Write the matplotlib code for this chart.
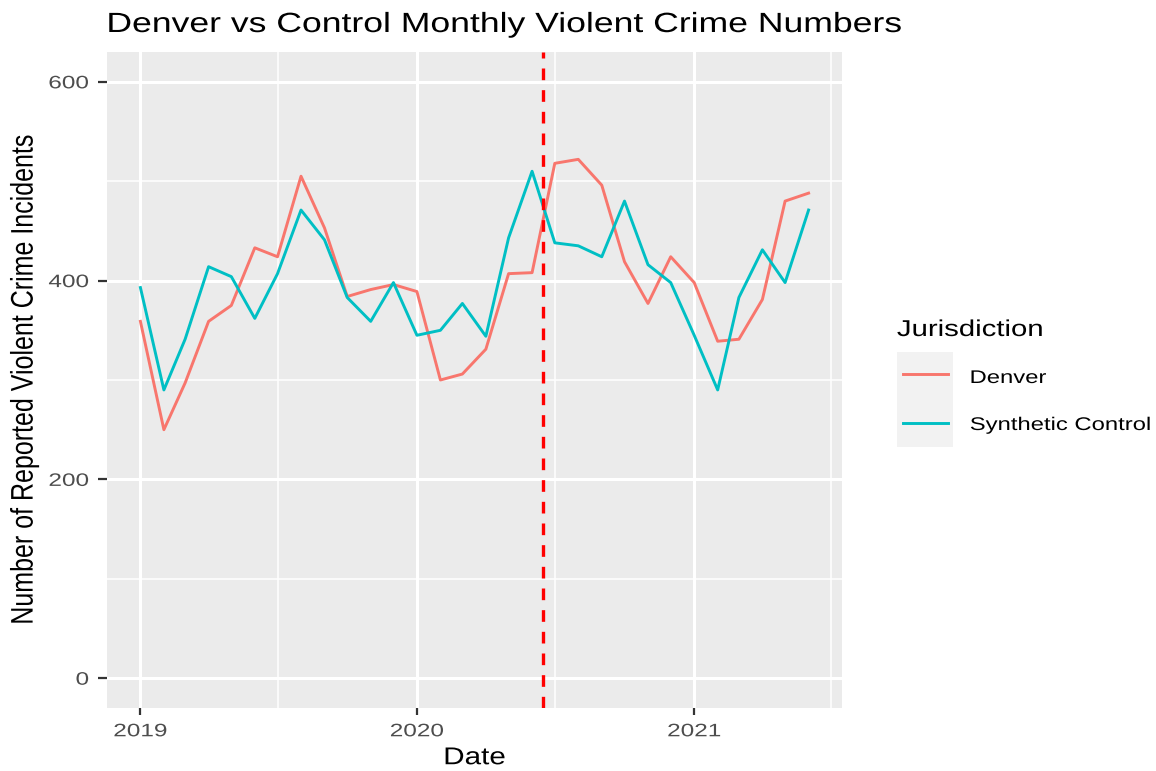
import matplotlib
matplotlib.use("Agg")
import matplotlib.pyplot as plt
import matplotlib.dates as mdates
from matplotlib.lines import Line2D
from matplotlib.patches import Rectangle
from matplotlib.patheffects import AbstractPathEffect
from matplotlib.transforms import Affine2D
import pandas as pd

# Meses (enero 2019 - junio 2021)
fechas = pd.date_range("2019-01-01", periods=30, freq="MS")

denver = [359, 250, 297, 359, 375, 433, 424, 505, 453, 384,
          391, 396, 389, 300, 306, 331, 407, 408, 518, 522,
          496, 419, 377, 424, 398, 339, 341, 381, 480, 488]

control = [393, 290, 341, 414, 404, 362, 407, 471, 441, 383,
           359, 398, 345, 350, 377, 344, 443, 510, 438, 435,
           424, 480, 416, 398, 345, 290, 383, 431, 398, 471]

series = ["Denver", "Synthetic Control"]
colores = ["#F8766D", "#00BFC4"]

fecha_corte = pd.Timestamp("2020-06-16")

W, H = 1156, 771


class Estirar(AbstractPathEffect):
    # ensancha el texto en horizontal (la imagen original esta estirada)
    def __init__(self, sx=1.28, ancla="center"):
        super().__init__()
        self.sx = sx
        self.ancla = ancla

    def draw_path(self, renderer, gc, tpath, affine, rgbFace=None):
        caja = tpath.get_extents(affine)
        x0 = {"left": caja.x0, "center": (caja.x0 + caja.x1) / 2, "right": caja.x1}[self.ancla]
        t = affine + Affine2D().translate(-x0, 0).scale(self.sx, 1).translate(x0, 0)
        renderer.draw_path(gc, tpath, t, rgbFace)


plt.rcParams["font.family"] = ["Liberation Sans", "DejaVu Sans"]

fig = plt.figure(figsize=(W / 100, H / 100), dpi=100)
ax = fig.add_axes([107 / W, 63 / H, 735 / W, 656 / H])
ax.set_facecolor("#EBEBEB")
for s in ax.spines.values():
    s.set_visible(False)

for datos, nombre, color in zip([denver, control], series, colores):
    ax.plot(fechas, datos, color=color, lw=2.1, label=nombre, zorder=3)
ax.axvline(fecha_corte, color="#FF0000", lw=2.4, ls=(0, (3.5, 3)), zorder=4)

# Limites con la expansion del 5% al estilo ggplot
x0 = mdates.date2num(fechas[0])
x1 = mdates.date2num(fechas[-1])
pad = (x1 - x0) * 0.05
ax.set_xlim(x0 - pad, x1 + pad)
ax.set_ylim(-30, 630)

ax.set_yticks([0, 200, 400, 600])
ax.set_yticks([100, 300, 500], minor=True)
ax.set_xticks([mdates.date2num(pd.Timestamp(f"{a}-01-01")) for a in (2019, 2020, 2021)])
ax.set_xticks([mdates.date2num(pd.Timestamp(f"{a}-07-01")) for a in (2019, 2020, 2021)], minor=True)
ax.xaxis.set_major_formatter(mdates.DateFormatter("%Y"))

ax.grid(which="major", color="white", lw=2.2, zorder=0)
ax.grid(which="minor", color="white", lw=1.1, zorder=0)
ax.set_axisbelow(True)
ax.tick_params(which="major", width=1.6, color="#333333", labelcolor="#4D4D4D", labelsize=13)
ax.tick_params(axis="x", which="major", length=5, pad=6)
ax.tick_params(axis="y", which="major", length=6.5, pad=6.5)
ax.tick_params(which="minor", length=0)

for t in ax.xaxis.get_major_ticks():
    t.label1.set_path_effects([Estirar(1.35, "center")])
for t in ax.yaxis.get_major_ticks():
    t.label1.set_path_effects([Estirar(1.35, "right")])

ax.set_xlabel("Date", fontsize=17.5, color="black", labelpad=5,
              path_effects=[Estirar(1.22, "center")])
ax.set_ylabel("Number of Reported Violent Crime Incidents", fontsize=18, color="black",
              path_effects=[Estirar(1.25, "center")])
ax.yaxis.set_label_coords((36 - 107) / 735, 0.5)

fig.text(107 / W, 1 - 32 / H, "Denver vs Control Monthly Violent Crime Numbers",
         fontsize=20, ha="left", va="baseline", path_effects=[Estirar(1.28, "left")])

# Leyenda al estilo ggplot
fig.text(897 / W, 1 - 336 / H, "Jurisdiction", fontsize=16.5, ha="left", va="baseline",
         path_effects=[Estirar(1.28, "left")])
fig.add_artist(Rectangle((897 / W, 1 - 447 / H), 56 / W, 95 / H,
                         transform=fig.transFigure, facecolor="#F2F2F2", edgecolor="none"))
for nombre, color, yc, yb in zip(series, colores, [374, 423], [383, 430]):
    fig.add_artist(Line2D([903 / W, 948 / W], [1 - yc / H, 1 - yc / H],
                          transform=fig.transFigure, color=color, lw=2.1))
    fig.text(970 / W, 1 - yb / H, nombre, fontsize=13.2, ha="left", va="baseline",
             path_effects=[Estirar(1.3, "left")])

fig.savefig("out.png", dpi=100)
